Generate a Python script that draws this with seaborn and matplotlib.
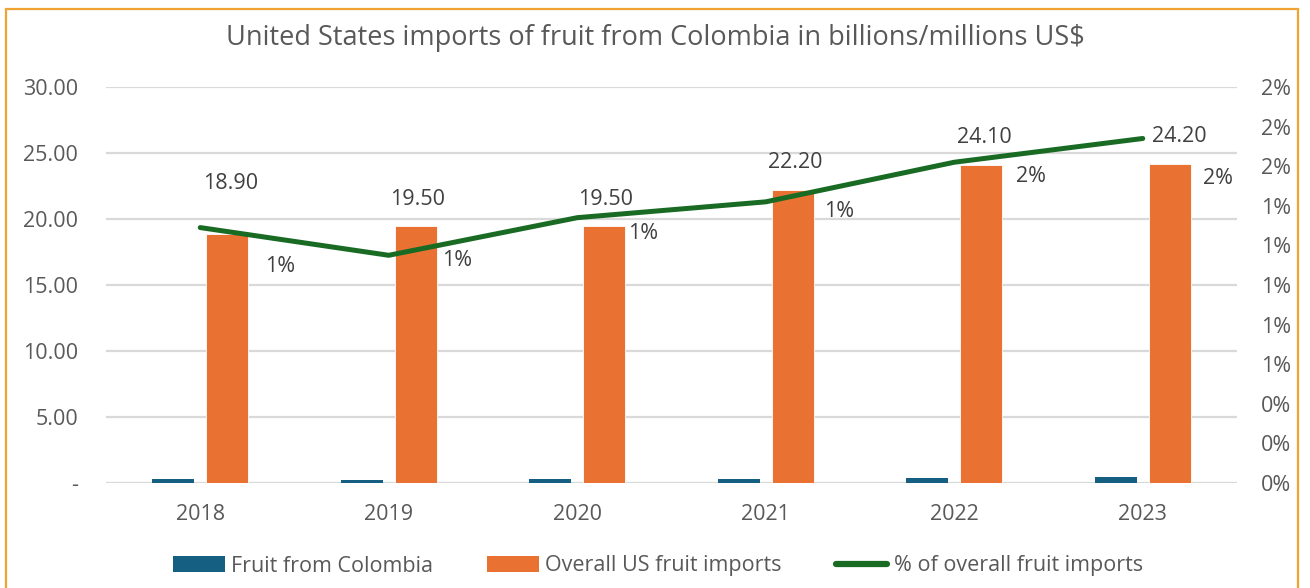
import numpy as np
import pandas as pd
import matplotlib
matplotlib.use("Agg")
import matplotlib.pyplot as plt
import seaborn as sns
from matplotlib.patches import Rectangle
from matplotlib.lines import Line2D
from matplotlib.patches import Patch

# ---- data ----
years = ["2018", "2019", "2020", "2021", "2022", "2023"]
fruit_from_colombia = [0.27, 0.24, 0.28, 0.32, 0.40, 0.42]
overall_us_imports = [18.90, 19.50, 19.50, 22.20, 24.10, 24.20]
pct_of_overall = [0.0129, 0.0115, 0.0134, 0.0142, 0.0162, 0.0174]
left_tick_labels = ["-", "5.00", "10.00", "15.00", "20.00", "25.00", "30.00"]
right_tick_labels = ["0%", "0%", "0%", "1%", "1%", "1%", "1%", "1%", "2%", "2%", "2%"]
series_names = ["Fruit from Colombia", "Overall US fruit imports", "% of overall fruit imports"]
title = "United States imports of fruit from Colombia in billions/millions US$"

BLUE = "#156082"
ORANGE = "#E97132"
GREEN = "#196B24"
TXT = "#595959"
GRID = "#D9D9D9"
FS = 15.5

sns.set_theme(style="white")
plt.rcParams["font.family"] = ["Open Sans", "DejaVu Sans"]

df = pd.DataFrame({
    "year": years * 2,
    "value": fruit_from_colombia + overall_us_imports,
    "series": [series_names[0]] * len(years) + [series_names[1]] * len(years),
})

fig = plt.figure(figsize=(13.1, 5.88), dpi=100)
ax = fig.add_axes([106 / 1310, 1 - 483 / 588, (1237 - 106) / 1310, (483 - 87) / 588])

sns.barplot(data=df, x="year", y="value", hue="series", order=years,
            hue_order=series_names[:2], palette=[BLUE, ORANGE],
            width=0.573, gap=0.222, saturation=1, ax=ax, legend=False,
            errorbar=None, edgecolor="white", linewidth=0.6)
for bar in ax.containers[0]:
    bar.set_linewidth(0)

ax.set_xlim(-0.5, len(years) - 0.5)
ax.set_ylim(0, 30)
ax.set_yticks(np.arange(0, 31, 5))
ax.set_yticklabels(left_tick_labels)
ax.yaxis.grid(True, color=GRID, linewidth=1.6)
ax.set_axisbelow(True)
for s in ax.spines.values():
    s.set_visible(False)
ax.set_xlabel("")
ax.set_ylabel("")
ax.tick_params(axis="y", length=0, pad=20, labelsize=FS, labelcolor=TXT)
ax.tick_params(axis="x", length=0, pad=15, labelsize=FS, labelcolor=TXT)

# value labels on orange bars
orange_offsets = [(3, 50), (2, 26), (1, 26), (2, 27), (3, 27), (10, 27)]
orange_container = ax.containers[1]
for bar, val, (dx, dy) in zip(orange_container, overall_us_imports, orange_offsets):
    ax.annotate(f"{val:.2f}", (bar.get_x() + bar.get_width() / 2, bar.get_height()),
                xytext=(dx, dy), textcoords="offset pixels",
                ha="center", va="center", fontsize=FS, color="#404040")

# secondary axis line
ax2 = ax.twinx()
sns.pointplot(x=years, y=pct_of_overall, order=years, color=GREEN, markers="",
              linewidth=3.6, ax=ax2, errorbar=None)
ax2.set_xlim(-0.5, len(years) - 0.5)
ax2.set_ylim(0, 0.02)
ax2.set_yticks(np.linspace(0, 0.02, 11))
ax2.set_yticklabels(right_tick_labels)
for s in ax2.spines.values():
    s.set_visible(False)
ax2.set_ylabel("")
ax2.grid(False)
ax2.tick_params(axis="y", length=0, pad=17, labelsize=FS, labelcolor=TXT)
for ln in ax2.lines:
    ln.set_solid_capstyle("round")
    ln.set_solid_joinstyle("round")

pct_offsets = [(80, -39), (68, -5), (66, -16), (73, -10), (77, -14), (75, -40)]
for i, (p, (dx, dy)) in enumerate(zip(pct_of_overall, pct_offsets)):
    ax2.annotate(f"{p:.0%}", (i, p), xytext=(dx, dy), textcoords="offset pixels",
                 ha="center", va="center", fontsize=FS, color="#404040")

# title
fig.text(655 / 1310, 1 - 38 / 588, title, ha="center", va="center",
         fontsize=19.5, color=TXT)

# legend
handles = [Patch(facecolor=BLUE, edgecolor="none"),
           Patch(facecolor=ORANGE, edgecolor="none"),
           Line2D([0], [0], color=GREEN, linewidth=4.5, solid_capstyle="round")]
fig.legend(handles, series_names, loc="center", bbox_to_anchor=(658 / 1310, 1 - 566 / 588),
           ncol=3, frameon=False, fontsize=FS, labelcolor=TXT, handlelength=2.4,
           handleheight=0.7, handletextpad=0.3, columnspacing=2.5)

# border
fig.patches.append(Rectangle((6 / 1310, -0.02), (1298 - 6) / 1310, 1 - 9 / 588 + 0.02,
                             transform=fig.transFigure, fill=False,
                             edgecolor="#F0A232", linewidth=1.6))

fig.savefig("out.png", dpi=100)
